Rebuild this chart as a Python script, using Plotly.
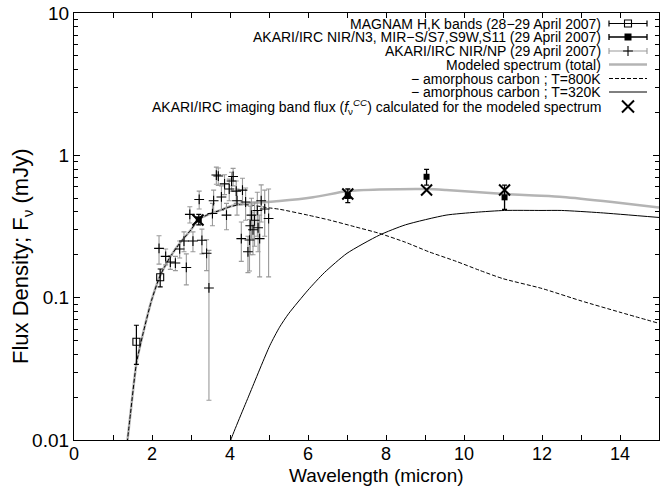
import plotly.graph_objects as go

# ---------------- data ----------------
# MAGNAM H,K photometry
mag_x = [1.60, 2.21]
mag_y = [0.049, 0.139]
mag_err = [0.015, 0.020]

# AKARI/IRC photometry (N3, S7, S9W, S11)
ak_x = [3.20, 7.02, 9.04, 11.04]
ak_y = [0.355, 0.518, 0.707, 0.507]
ak_err_plus = [0.03, 0.062, 0.09, 0.11]
ak_err_minus = [0.03, 0.053, 0.09, 0.09]

# AKARI/IRC NIR/NP spectrum
np_x = [2.18, 2.35, 2.47, 2.60, 2.71, 2.82, 2.88, 2.97, 3.05, 3.21, 3.28, 3.40, 3.46,
        3.55, 3.58, 3.65, 3.70, 3.78, 3.86, 3.91, 3.98, 4.04, 4.08, 4.16, 4.18, 4.29,
        4.32, 4.40, 4.46, 4.50, 4.52, 4.55, 4.59, 4.63, 4.70, 4.72, 4.76, 4.80, 4.89, 4.99]
np_y = [0.222, 0.195, 0.178, 0.175, 0.220, 0.250, 0.163, 0.385, 0.250, 0.490, 0.253, 0.205, 0.117,
        0.390, 0.480, 0.727, 0.715, 0.510, 0.630, 0.380, 0.580, 0.660, 0.710, 0.560, 0.480, 0.260,
        0.570, 0.470, 0.210, 0.254, 0.320, 0.380, 0.300, 0.350, 0.410, 0.310, 0.260, 0.480, 0.420, 0.360]
np_err = [0.050, 0.025, 0.020, 0.020, 0.030, 0.040, 0.040, 0.050, 0.040, 0.070, 0.050, 0.050, 0.098,
          0.070, 0.090, 0.100, 0.100, 0.100, 0.100, 0.080, 0.100, 0.100, 0.100, 0.100, 0.100, 0.080,
          0.120, 0.120, 0.060, 0.100, 0.120, 0.120, 0.100, 0.120, 0.140, 0.100, 0.120, 0.140, 0.150, 0.220]

# Modeled spectrum (total)
tot_x = [1.33, 1.45, 1.6, 1.77, 1.99, 2.2, 2.45, 2.71, 3.0, 3.18, 3.45, 3.74, 4.0, 4.25, 4.6,
         4.93, 5.27, 6.13, 7.02, 7.83, 9.04, 9.54, 10.3, 11.04, 11.8, 12.53, 13.8, 15.0]
tot_y = [0.0079, 0.0155, 0.0345, 0.056, 0.096, 0.141, 0.19, 0.241, 0.30, 0.351, 0.385, 0.41, 0.437,
         0.455, 0.462, 0.47, 0.477, 0.507, 0.561, 0.575, 0.58, 0.571, 0.553, 0.535, 0.522, 0.51, 0.47, 0.43]

# amorphous carbon T=800K
c800_x = [1.33, 1.45, 1.6, 1.77, 1.99, 2.2, 2.45, 2.71, 3.0, 3.18, 3.45, 3.74, 4.0, 4.25, 4.6,
          4.93, 5.27, 6.0, 6.55, 7.2, 7.83, 8.5, 9.1, 9.8, 10.39, 11.0, 12.0, 13.0, 14.0, 15.0]
c800_y = [0.0079, 0.0155, 0.0345, 0.056, 0.096, 0.141, 0.19, 0.241, 0.30, 0.351, 0.385, 0.41, 0.435,
          0.45, 0.445, 0.43, 0.418, 0.38, 0.351, 0.315, 0.283, 0.245, 0.21, 0.18, 0.156, 0.136,
          0.116, 0.095, 0.079, 0.066]

# amorphous carbon T=320K
c320_x = [3.95, 4.02, 4.5, 5.02, 5.27, 5.5, 6.0, 6.42, 7.0, 7.83, 8.5, 9.54, 10.3, 11.04, 12.0,
          12.5, 13.5, 15.0]
c320_y = [0.0085, 0.010, 0.021, 0.046, 0.062, 0.077, 0.113, 0.150, 0.205, 0.275, 0.325, 0.38,
          0.398, 0.41, 0.41, 0.41, 0.395, 0.366]

# AKARI/IRC imaging band flux calculated for the model
cc_x = [3.18, 7.02, 9.04, 11.04]
cc_y = [0.351, 0.535, 0.570, 0.570]

x_ticks = [0, 2, 4, 6, 8, 10, 12, 14]
y_ticks = [0.01, 0.1, 1, 10]
y_ticktext = ["0.01", "0.1", "1", "10"]
y_minor = [m * d for d in (0.01, 0.1, 1) for m in range(2, 10)]

legend_labels = [
    "MAGNAM H,K bands (28−29 April 2007)",
    "AKARI/IRC NIR/N3, MIR−S/S7,S9W,S11 (29 April 2007)",
    "AKARI/IRC NIR/NP (29 April 2007)",
    "Modeled spectrum (total)",
    "− amorphous carbon ; T=800K",
    "− amorphous carbon ; T=320K",
    "AKARI/IRC imaging band flux (<i>f</i><sub>ν</sub><sup><i>CC</i></sup>) calculated for the modeled spectrum",
]
x_title = "Wavelength (micron)"
y_title = "Flux Density; F<sub>ν</sub> (mJy)"

# ---------------- styling/layout constants ----------------
FONT = "Liberation Sans"
W, H = 660, 489
ML, MR, MT, MB = 74, 1, 13, 49
PW, PH = W - ML - MR, H - MT - MB
LEG_ROWS = [23.5, 37.0, 51.0, 64.5, 78.5, 92.0, 106.5]   # pixel rows of legend
LEG_TEXT_RIGHT = 603
LEG_SYM_X = 628
LEG_SYM_HALF = 19
GRAY = "#b4b4b4"
ERRGRAY = "#9a9a9a"


def px2paper_x(px):
    return (px - ML) / PW


def px2paper_y(py):
    return (H - MB - py) / PH


fig = go.Figure()

# model curves
fig.add_trace(go.Scatter(x=tot_x, y=tot_y, mode="lines",
                         line=dict(color=GRAY, width=2.5, shape="spline", smoothing=0.6),
                         showlegend=False))
fig.add_trace(go.Scatter(x=c800_x, y=c800_y, mode="lines",
                         line=dict(color="black", width=1, dash="4px,2px", shape="spline",
                                   smoothing=0.6), showlegend=False))
fig.add_trace(go.Scatter(x=c320_x, y=c320_y, mode="lines",
                         line=dict(color="black", width=1, shape="spline", smoothing=0.6),
                         showlegend=False))

# NP spectrum
fig.add_trace(go.Scatter(x=np_x, y=np_y, mode="markers",
                         marker=dict(symbol="cross-thin-open", size=7, color="black",
                                     line=dict(color="black", width=1.1)),
                         error_y=dict(type="data", array=np_err, color=ERRGRAY,
                                      thickness=1.1, width=2.5),
                         showlegend=False))

# MAGNAM
fig.add_trace(go.Scatter(x=mag_x, y=mag_y, mode="markers",
                         marker=dict(symbol="square-open", size=7, color="black",
                                     line=dict(color="black", width=1.1)),
                         error_y=dict(type="data", array=mag_err, color="black",
                                      thickness=1.2, width=2.5),
                         showlegend=False))

# AKARI photometry
fig.add_trace(go.Scatter(x=ak_x, y=ak_y, mode="markers",
                         marker=dict(symbol="square", size=6, color="black"),
                         error_y=dict(type="data", symmetric=False, array=ak_err_plus,
                                      arrayminus=ak_err_minus, color="black",
                                      thickness=1.3, width=2.5),
                         showlegend=False))

# model band flux X
fig.add_trace(go.Scatter(x=cc_x, y=cc_y, mode="markers",
                         marker=dict(symbol="x-thin-open", size=11, color="black",
                                     line=dict(color="black", width=2)),
                         showlegend=False))

# ---------------- manual legend (overlay axes in pixel units) ----------------
lx = [LEG_SYM_X]
lxs = [LEG_SYM_X - LEG_SYM_HALF, LEG_SYM_X + LEG_SYM_HALF]
leg = dict(xaxis="x2", yaxis="y2", showlegend=False, hoverinfo="skip")
fig.add_trace(go.Scatter(x=lx, y=[LEG_ROWS[0]], mode="markers",
                         marker=dict(symbol="square-open", size=7, color="black",
                                     line=dict(color="black", width=1.1)),
                         error_x=dict(type="data", array=[LEG_SYM_HALF], color="black",
                                      thickness=1.2, width=3), **leg))
fig.add_trace(go.Scatter(x=lx, y=[LEG_ROWS[1]], mode="markers",
                         marker=dict(symbol="square", size=7, color="black"),
                         error_x=dict(type="data", array=[LEG_SYM_HALF], color="black",
                                      thickness=1.3, width=3), **leg))
fig.add_trace(go.Scatter(x=lx, y=[LEG_ROWS[2]], mode="markers",
                         marker=dict(symbol="cross-thin-open", size=7, color="black",
                                     line=dict(color="black", width=1.1)),
                         error_x=dict(type="data", array=[LEG_SYM_HALF], color=ERRGRAY,
                                      thickness=1.1, width=3), **leg))
fig.add_trace(go.Scatter(x=lxs, y=[LEG_ROWS[3]] * 2, mode="lines",
                         line=dict(color=GRAY, width=2.5), **leg))
fig.add_trace(go.Scatter(x=lxs, y=[LEG_ROWS[4]] * 2, mode="lines",
                         line=dict(color="black", width=1, dash="4px,2px"), **leg))
fig.add_trace(go.Scatter(x=lxs, y=[LEG_ROWS[5]] * 2, mode="lines",
                         line=dict(color="black", width=1), **leg))
fig.add_trace(go.Scatter(x=lx, y=[LEG_ROWS[6]], mode="markers",
                         marker=dict(symbol="x-thin-open", size=12, color="black",
                                     line=dict(color="black", width=2)), **leg))

annotations = []
for lab, ry in zip(legend_labels, LEG_ROWS):
    annotations.append(dict(text=lab, x=LEG_TEXT_RIGHT, y=ry, xref="x2", yref="y2",
                            xanchor="right", yanchor="middle", showarrow=False,
                            font=dict(family=FONT, size=14, color="black")))

# axis titles as annotations (positioned in pixels)
annotations.append(dict(text=x_title, x=px2paper_x(376), y=px2paper_y(488),
                        xref="paper", yref="paper", xanchor="center", yanchor="bottom",
                        showarrow=False, font=dict(family=FONT, size=19, color="black")))
annotations.append(dict(text=y_title, x=px2paper_x(22), y=px2paper_y(256),
                        xref="paper", yref="paper", xanchor="center", yanchor="middle",
                        textangle=-90, showarrow=False,
                        font=dict(family=FONT, size=22, color="black")))

axis_common = dict(showline=True, linecolor="black", linewidth=1.3, mirror="allticks",
                   ticks="inside", tickcolor="black", showgrid=False, zeroline=False)

fig.update_layout(
    width=W, height=H, margin=dict(l=ML, r=MR, t=MT, b=MB),
    paper_bgcolor="white", plot_bgcolor="white",
    font=dict(family=FONT, size=19, color="black"),
    xaxis=dict(range=[0, 15], tickvals=x_ticks, ticklen=5, tickwidth=1.3,
               ticklabelstandoff=-3,
               minor=dict(dtick=1, ticks="inside", ticklen=5, tickcolor="black", tickwidth=1.3),
               tickfont=dict(size=18), **axis_common),
    yaxis=dict(type="log", range=[-2, 1], tickvals=y_ticks, ticktext=y_ticktext,
               ticklen=6, tickwidth=1.3,
               minor=dict(tickvals=y_minor, ticks="inside", ticklen=4, tickcolor="black",
                          tickwidth=1),
               tickfont=dict(size=19), **axis_common),
    xaxis2=dict(overlaying="x", range=[ML, W - MR], visible=False, fixedrange=True),
    yaxis2=dict(overlaying="y", range=[H - MB, MT], visible=False, fixedrange=True),
    annotations=annotations,
    showlegend=False,
)

fig.write_html("out.html")
